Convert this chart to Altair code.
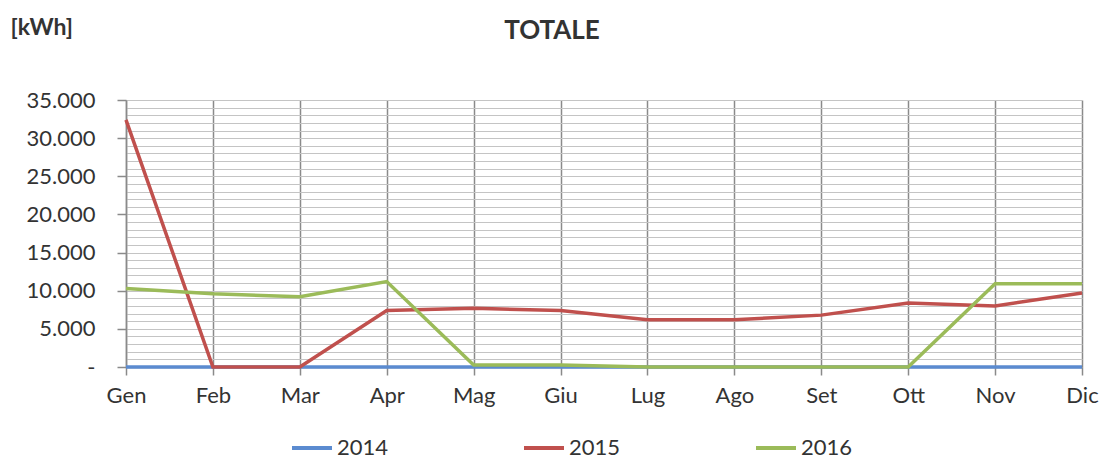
import altair as alt
import pandas as pd

months = ["Gen", "Feb", "Mar", "Apr", "Mag", "Giu", "Lug", "Ago", "Set", "Ott", "Nov", "Dic"]
years = ["2014", "2015", "2016"]
v2014 = [0, 0, 0, 0, 0, 0, 0, 0, 0, 0, 0, 0]
v2015 = [32400, 0, 0, 7400, 7700, 7400, 6200, 6200, 6800, 8400, 8000, 9700]
v2016 = [10300, 9600, 9200, 11200, 250, 250, 0, 0, 0, 0, 10900, 10900]
colors = ["#5b8bd0", "#c0504d", "#9bbb59"]
y_ticks = list(range(0, 35001, 1000))

rows = []
for yr, vals in zip(years, [v2014, v2015, v2016]):
    for m, v in zip(months, vals):
        rows.append({"anno": yr, "mese": m, "valore": v})
df = pd.DataFrame(rows)

FONT = "Lato"
TXT = "#333333"

chart = alt.Chart(df).mark_line(strokeWidth=3.5).encode(
    x=alt.X("mese:N", sort=months, title=None,
            scale=alt.Scale(type="point", padding=0),
            axis=alt.Axis(labelAngle=0, grid=True, gridColor="#8a8a8a", gridWidth=1.5,
                          domainColor="#8a8a8a", domainWidth=1.5, tickColor="#8a8a8a",
                          tickWidth=1.5, tickSize=8, labelPadding=10,
                          labelFont=FONT, labelFontSize=22, labelColor=TXT)),
    y=alt.Y("valore:Q", title="[kWh]",
            scale=alt.Scale(domain=[0, 35000], nice=False),
            axis=alt.Axis(values=y_ticks, grid=True, gridColor="#c4c4c4", gridWidth=1.2,
                          labelExpr="datum.value % 5000 === 0 ? (datum.value === 0 ? '-' : replace(format(datum.value, ','), ',', '.')) : ''",
                          labelOverlap=False, labelFont=FONT, labelFontSize=22, labelColor=TXT,
                          labelPadding=22,
                          tickOpacity={"condition": {"test": "datum.value % 5000 === 0", "value": 1}, "value": 0},
                          tickColor="#8a8a8a", tickWidth=1.5, tickSize=9,
                          domainColor="#8a8a8a", domainWidth=1.5,
                          titleAngle=0, titleX=-116, titleY=-73, titleAlign="left",
                          titleBaseline="middle", titleFont=FONT, titleFontSize=23,
                          titleFontWeight="bold", titleColor=TXT)),
    color=alt.Color("anno:N", scale=alt.Scale(domain=years, range=colors),
                    legend=alt.Legend(orient="none", legendX=164, legendY=326,
                                      direction="horizontal", title=None,
                                      symbolType="stroke", symbolSize=1600,
                                      symbolStrokeWidth=4, labelFont=FONT,
                                      labelFontSize=22, labelColor=TXT,
                                      columnPadding=127, labelOffset=3)),
).properties(
    width=956,
    height=267,
    title=alt.TitleParams("TOTALE", font=FONT, fontSize=26, fontWeight="bold",
                          color=TXT, anchor="middle", dx=-52, offset=-28),
    autosize=alt.AutoSizeParams(type="none"),
    padding={"left": 118, "top": 92, "right": 20, "bottom": 97},
).configure_view(stroke=None)

chart.save("out.html", embed_options={"renderer": "svg", "actions": False})
